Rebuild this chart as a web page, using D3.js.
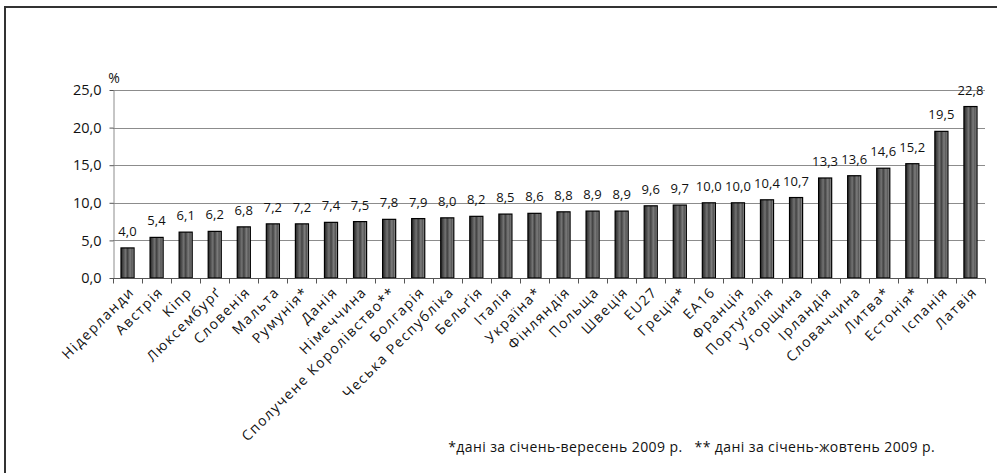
<!DOCTYPE html>
<html>
<head>
<meta charset="utf-8">
<script src="https://cdn.jsdelivr.net/npm/d3@7"></script>
<style>
  body { margin: 0; background: #fff; }
  svg { display: block; font-family: "Open Sans", "Noto Sans", sans-serif; }
</style>
</head>
<body>
<svg id="chart"></svg>
<script>
const countries = [
  'Нідерланди', 'Австрія', 'Кіпр', 'Люксембурґ', 'Словенія', 'Мальта', 'Румунія*',
  'Данія', 'Німеччина', 'Сполучене Королівство**', 'Болгарія', 'Чеська Республіка',
  'Бельґія', 'Італія', 'Україна*', 'Фінляндія', 'Польща', 'Швеція', 'EU27', 'Греція*',
  'EA16', 'Франція', 'Портуґалія', 'Угорщина', 'Ірландія', 'Словаччина', 'Литва*',
  'Естонія*', 'Іспанія', 'Латвія'
];
const rates = [
  4.0, 5.4, 6.1, 6.2, 6.8, 7.2, 7.2, 7.4, 7.5, 7.8, 7.9, 8.0, 8.2, 8.5, 8.6,
  8.8, 8.9, 8.9, 9.6, 9.7, 10.0, 10.0, 10.4, 10.7, 13.3, 13.6, 14.6, 15.2, 19.5, 22.8
];
const yTicks = [0, 5, 10, 15, 20, 25];
const unitLabel = '%';
const footnote = '*дані за січень-вересень 2009 р.   ** дані за січень-жовтень 2009 р.';

const data = countries.map((c, i) => ({ name: c, value: rates[i] }));

const W = 997, H = 473;
const margin = { top: 90, right: 12, bottom: 195, left: 113 };
const width = W - margin.left - margin.right;
const height = H - margin.top - margin.bottom;
const fmt = v => d3.format('.1f')(v).replace('.', ',');

const svg = d3.select('#chart').attr('width', W).attr('height', H);

// frame (only top and left edges are visible in the picture)
svg.append('path')
  .attr('d', `M5,${H} V7 H${W}`)
  .attr('fill', 'none')
  .attr('stroke', '#333')
  .attr('stroke-width', 2);

const defs = svg.append('defs');
const grad = defs.append('linearGradient').attr('id', 'barGrad')
  .attr('x1', '0%').attr('x2', '100%').attr('y1', '0%').attr('y2', '0%');
[[0, '#262626'], [0.2, '#505050'], [0.35, '#737373'], [0.5, '#424242'],
 [0.7, '#7c7c7c'], [0.85, '#555555'], [1, '#b5b5b5']]
  .forEach(([o, c]) => grad.append('stop').attr('offset', o).attr('stop-color', c));

const g = svg.append('g').attr('transform', `translate(${margin.left},${margin.top})`);

const x = d3.scaleBand().domain(countries).range([0, width]).paddingInner(0.55).paddingOuter(0.275);
const y = d3.scaleLinear().domain([0, 25]).range([height, 0]);

// gridlines
g.append('g')
  .selectAll('line')
  .data(yTicks.filter(d => d > 0))
  .join('line')
  .attr('x1', 0).attr('x2', width)
  .attr('y1', d => Math.round(y(d)) + 0.5).attr('y2', d => Math.round(y(d)) + 0.5)
  .attr('stroke', '#8c8c8c');

// y axis
g.append('g')
  .attr('class', 'y-axis')
  .attr('transform', 'translate(0.5,0)')
  .call(d3.axisLeft(y).tickValues(yTicks).tickFormat(fmt).tickSize(4).tickSizeOuter(0).tickPadding(8))
  .call(a => a.select('.domain').attr('stroke', '#8c8c8c'))
  .call(a => a.selectAll('.tick line').attr('stroke', '#555'))
  .call(a => a.selectAll('.tick text').attr('font-size', 14.5).attr('fill', '#111')
    .attr('font-family', '"Open Sans", sans-serif'));

g.append('text')
  .attr('x', 1).attr('y', -7)
  .attr('text-anchor', 'middle')
  .attr('font-size', 14).attr('fill', '#111')
  .text(unitLabel);

// bars
g.append('g')
  .selectAll('rect')
  .data(data)
  .join('rect')
  .attr('x', d => x(d.name))
  .attr('y', d => y(d.value))
  .attr('width', x.bandwidth())
  .attr('height', d => height - y(d.value))
  .attr('fill', 'url(#barGrad)')
  .attr('stroke', '#000')
  .attr('stroke-width', 1.2);

// value labels
g.append('g')
  .selectAll('text')
  .data(data)
  .join('text')
  .attr('x', d => x(d.name) + x.bandwidth() / 2)
  .attr('y', d => y(d.value) - 12)
  .attr('text-anchor', 'middle')
  .attr('font-size', 13)
  .attr('letter-spacing', 0.1)
  .attr('fill', '#111')
  .text(d => fmt(d.value));

// x axis with ticks between categories
const step = x.step();
const xAxis = g.append('g').attr('transform', `translate(0,${Math.round(height) + 0.5})`);
xAxis.append('line')
  .attr('x1', 0).attr('x2', width)
  .attr('stroke', '#555');
xAxis.selectAll('line.tk')
  .data(d3.range(countries.length + 1))
  .join('line')
  .attr('class', 'tk')
  .attr('x1', i => Math.round(i * step) + 0.5).attr('x2', i => Math.round(i * step) + 0.5)
  .attr('y1', 0).attr('y2', 5)
  .attr('stroke', '#555');

xAxis.selectAll('text')
  .data(countries)
  .join('text')
  .attr('transform', d => `translate(${x(d) + x.bandwidth() / 2 + 4},${11}) rotate(-45)`)
  .attr('text-anchor', 'end')
  .attr('dy', '0.35em')
  .attr('font-size', 14)
  .attr('letter-spacing', 1.5)
  .attr('fill', '#111')
  .text(d => d);

// footnote
svg.append('text')
  .attr('x', 935).attr('y', 452)
  .attr('text-anchor', 'end')
  .attr('font-size', 14)
  .attr('letter-spacing', 0.4)
  .attr('fill', '#111')
  .style('white-space', 'pre')
  .text(footnote);
</script>
</body>
</html>
